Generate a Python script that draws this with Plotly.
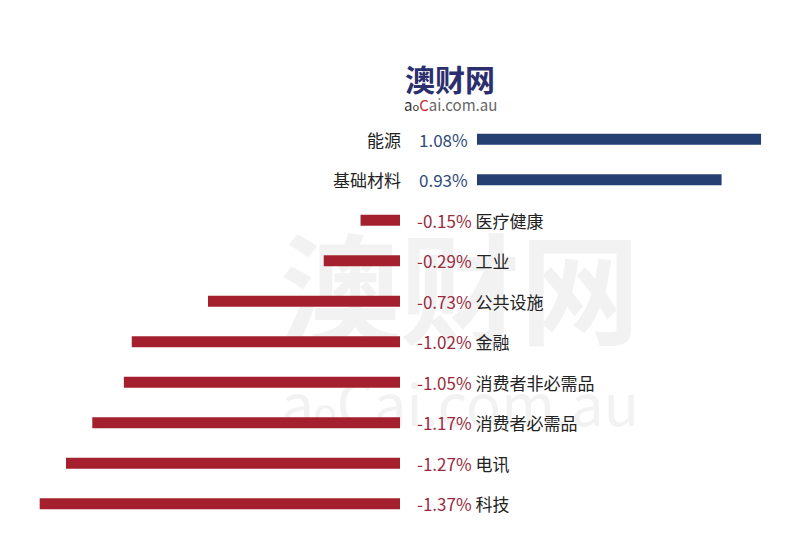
import plotly.graph_objects as go

sectors = ["能源", "基础材料", "医疗健康", "工业", "公共设施", "金融",
           "消费者非必需品", "消费者必需品", "电讯", "科技"]
changes = [1.08, 0.93, -0.15, -0.29, -0.73, -1.02, -1.05, -1.17, -1.27, -1.37]

POS_BAR = "#263f73"
NEG_BAR = "#a5202e"
POS_TXT = "#2f4a7a"
NEG_TXT = "#9a2b3c"
NAME_TXT = "#222222"
FONT = "Noto Sans CJK SC, Noto Sans, sans-serif"

T, B, H = 119, 26, 550
PLOT_BOTTOM = H - B
PLOT_H = H - T - B


def py(pix):
    """pixel y (from top) -> paper y"""
    return (PLOT_BOTTOM - pix) / PLOT_H


pos_s = [s for s, v in zip(sectors, changes) if v >= 0]
pos_v = [v for v in changes if v >= 0]
neg_s = [s for s, v in zip(sectors, changes) if v < 0]
neg_v = [v for v in changes if v < 0]

fig = go.Figure()
fig.add_trace(go.Bar(y=neg_s, x=neg_v, orientation="h", xaxis="x", yaxis="y",
                     marker=dict(color=NEG_BAR, line=dict(width=0)), width=0.27,
                     hoverinfo="skip"))
fig.add_trace(go.Bar(y=pos_s, x=pos_v, orientation="h", xaxis="x2", yaxis="y",
                     marker=dict(color=POS_BAR, line=dict(width=0)), width=0.27,
                     hoverinfo="skip"))

annotations = []
for s, v in zip(sectors, changes):
    if v >= 0:
        annotations.append(dict(xref="paper", yref="y", x=403/800, y=s, text=s,
                                xanchor="right", yanchor="middle", showarrow=False,
                                font=dict(family=FONT, size=17, color=NAME_TXT)))
        annotations.append(dict(xref="paper", yref="y", x=417/800, y=s, text=f"{v:.2f}%",
                                xanchor="left", yanchor="middle", showarrow=False,
                                font=dict(family=FONT, size=17, color=POS_TXT)))
    else:
        annotations.append(dict(xref="paper", yref="y", x=415/800, y=s,
                                text=f"<span style='color:{NEG_TXT}'>{v:.2f}%</span> {s}",
                                xanchor="left", yanchor="middle", showarrow=False,
                                font=dict(family=FONT, size=17, color=NAME_TXT)))

# logo
annotations.append(dict(xref="paper", yref="paper", x=450/800, y=py(78),
                        text="<b>澳财网</b>", showarrow=False, xanchor="center", yanchor="middle",
                        font=dict(family=FONT, size=30, color="#2c2f6e")))
annotations.append(dict(xref="paper", yref="paper", x=450/800, y=py(104),
                        text="<span style='color:#333333'>a</span><span style='font-size:11px;color:#333333'>o</span>"
                             "<span style='color:#d2232a'>C</span>ai.com.au",
                        showarrow=False, xanchor="center", yanchor="middle",
                        font=dict(family=FONT, size=15, color="#666666")))

shapes = [
    dict(type="rect", xref="paper", yref="paper", x0=270/800, x1=650/800,
         y0=py(372), y1=py(234), layer="below", line=dict(width=0),
         fillcolor="rgba(0,0,0,0)",
         label=dict(text="<b>澳财网</b>", textposition="middle center",
                    font=dict(family=FONT, size=120, color="#f2f2f2"))),
    dict(type="rect", xref="paper", yref="paper", x0=270/800, x1=650/800,
         y0=py(440), y1=py(380), layer="below", line=dict(width=0),
         fillcolor="rgba(0,0,0,0)",
         label=dict(text="a<span style='font-size:38px'>o</span>Cai.com.au",
                    textposition="middle center",
                    font=dict(family=FONT, size=58, color="#f2f2f2"))),
]

fig.update_layout(
    width=800, height=550,
    margin=dict(l=0, r=0, t=T, b=B),
    paper_bgcolor="white", plot_bgcolor="rgba(0,0,0,0)",
    showlegend=False, barmode="overlay",
    xaxis=dict(domain=[0, 0.5], range=[-400/263, 0], visible=False, fixedrange=True),
    xaxis2=dict(domain=[477/800, 1], range=[0, 323/263], visible=False, anchor="y", fixedrange=True),
    yaxis=dict(type="category", categoryarray=sectors, range=[9.5, -0.5], visible=False),
    annotations=annotations,
    shapes=shapes,
)

fig.write_html("out.html")
